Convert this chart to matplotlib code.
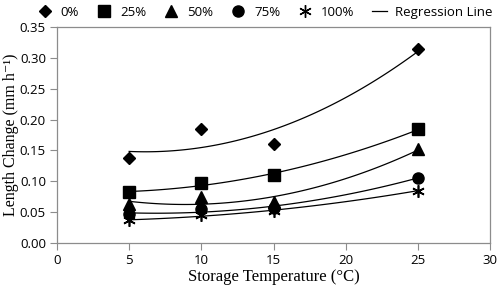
import numpy as np
import matplotlib.pyplot as plt
from matplotlib.lines import Line2D

temps = [5, 10, 15, 25]
labels = ["0%", "25%", "50%", "75%", "100%"]
change_0 = [0.137, 0.185, 0.161, 0.314]
change_25 = [0.082, 0.097, 0.110, 0.184]
change_50 = [0.063, 0.075, 0.066, 0.152]
change_75 = [0.047, 0.055, 0.056, 0.106]
change_100 = [0.037, 0.045, 0.052, 0.085]

series = [change_0, change_25, change_50, change_75, change_100]
markers = ["D", "s", "^", "o", (6, 2, 0)]
sizes = [6, 8, 8, 8, 9]

fig = plt.figure(figsize=(5, 2.9), dpi=100)
ax = fig.add_axes([0.114, 0.162, 0.866, 0.745])

xs = np.linspace(5, 25, 100)
for vals, m, s in zip(series, markers, sizes):
    coef = np.polyfit(temps, vals, 2)
    ax.plot(xs, np.polyval(coef, xs), color="black", lw=0.9)
    ax.plot(temps, vals, linestyle="none", marker=m, markersize=s,
            color="black", markeredgewidth=1.0 if m != (6, 2, 0) else 1.2)

ax.set_xlim(0, 30)
ax.set_ylim(0, 0.35)
ax.set_xticks(range(0, 31, 5))
ax.set_yticks(np.arange(0, 0.351, 0.05))
ax.set_yticklabels([f"{v:.2f}" for v in np.arange(0, 0.351, 0.05)])
for sp in ax.spines.values():
    sp.set_color("#8c8c8c")
    sp.set_linewidth(0.9)
ax.tick_params(direction="out", length=5, color="#8c8c8c", labelsize=9.5, pad=3)
for lbl in ax.get_xticklabels() + ax.get_yticklabels():
    lbl.set_family("Open Sans")

ax.set_xlabel("Storage Temperature (\u00b0C)", family="Liberation Serif", fontsize=12, labelpad=1)
ax.set_ylabel("Length Change (mm h\u207b\u00b9)", family=["Liberation Serif", "DejaVu Serif"],
              fontsize=11.5, labelpad=1)
ax.yaxis.set_label_coords(-0.088, 0.5)

handles = [Line2D([], [], linestyle="none", marker=m, markersize=s, color="black")
           for m, s in zip(markers, sizes)]
handles.append(Line2D([], [], color="black", lw=0.9))
fig.legend(handles, labels + ["Regression Line"], loc="upper center", ncol=6,
           bbox_to_anchor=(0.53, 1.02), frameon=False, handlelength=1.2,
           handletextpad=0.6, columnspacing=1.3,
           prop={"family": "Open Sans", "size": 9.5})

fig.savefig("out.png", dpi=100)
